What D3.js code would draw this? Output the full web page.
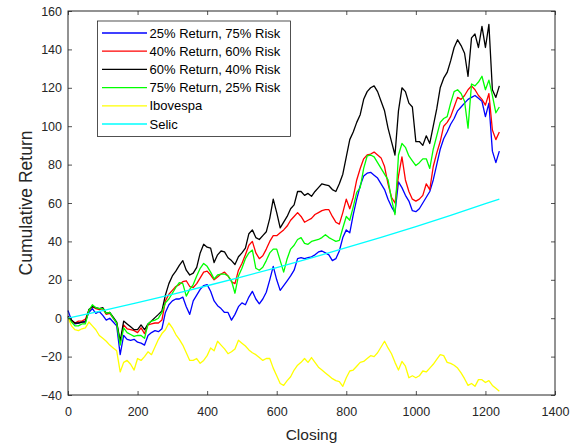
<!DOCTYPE html>
<html>
<head>
<meta charset="utf-8">
<script src="https://cdn.jsdelivr.net/npm/d3@7"></script>
<style>
  body { margin: 0; background: #fff; }
  text { font-family: "Liberation Sans", Arial, Helvetica, sans-serif; }
</style>
</head>
<body>
<script>
// trading day index (sampled every 10 closings)
var closing = [
  0, 10, 20, 30, 40, 50, 60, 70, 80, 90,
  100, 110, 120, 130, 140, 150, 160, 170, 180, 190,
  200, 210, 220, 230, 240, 250, 260, 270, 280, 290,
  300, 310, 320, 330, 340, 350, 360, 370, 380, 390,
  400, 410, 420, 430, 440, 450, 460, 470, 480, 490,
  500, 510, 520, 530, 540, 550, 560, 570, 580, 590,
  600, 610, 620, 630, 640, 650, 660, 670, 680, 690,
  700, 710, 720, 730, 740, 750, 760, 770, 780, 790,
  800, 810, 820, 830, 840, 850, 860, 870, 880, 890,
  900, 910, 920, 930, 940, 950, 960, 970, 980, 990,
  1000, 1010, 1020, 1030, 1040, 1050, 1060, 1070, 1080, 1090,
  1100, 1110, 1120, 1130, 1140, 1150, 1160, 1170, 1180, 1190,
  1200, 1210, 1220, 1230, 1240
];

var blue25 = [
  4, -1, -3, -2.5, -2, -1.5, 3, 5, 2.5, 3.5,
  1.5, -1, 0, -2, -4, -19, -9, -11, -11.5, -11,
  -12.5, -13, -14, -9, -7.5, -6.5, -7, -5.5, 3, 7,
  9, 10, 10, 11, 6, 2, 9, 12, 15, 17,
  17.5, 14, 9, 6.5, 5, 3, 3, -1, 2, 6,
  8, 7, 11, 14, 10, 7.5, 10, 13.5, 20, 27,
  20, 14.5, 17, 19.5, 22, 25, 31, 31.5, 31, 31.5,
  32, 33, 34.5, 35, 34, 33, 30, 31, 35, 42,
  46, 44.5, 54, 62, 69, 74, 75.5, 76, 74.5, 73,
  70, 67, 62, 58, 55, 71, 68, 64, 61, 56,
  55.5, 57, 60, 63, 66, 72, 80, 88, 93.5, 97,
  101, 104, 108, 110, 112, 114, 115, 116, 114.5, 113,
  105, 112, 87, 81, 87
];

var red40 = [
  0.5, -1.5, -2.5, -1.5, -1.5, -0.5, 4, 6, 5, 4.5,
  5, 2, 2.5, 0, -2.5, -13, -3.5, -5.5, -6, -6.5,
  -7.5, -5, -8, -3.5, -3, -2.5, -2.5, -1, 9, 12.5,
  14.5, 16.5, 17.5, 19, 19.5, 16.5, 16, 18, 21, 24,
  24.5, 22.5, 20, 21.5, 23, 24, 22, 19, 18, 25,
  28.5, 33, 38, 40, 34, 31, 32.5, 36, 40, 43,
  43, 44.5, 46, 48, 51, 53, 55, 53, 50, 51,
  52, 54, 55, 56, 56.5, 56.5, 53, 50, 49, 55,
  62, 57, 63, 72, 78, 83, 85, 85.5, 86.5, 85,
  83.5, 79, 70, 63, 60, 74, 84, 72, 66, 62,
  61, 62, 64, 70, 67, 79, 86, 92, 100, 102,
  105, 110, 115, 114, 116, 119, 121, 119, 116, 114,
  111, 117, 98, 93, 97
];

var black60 = [
  1, -1, -2.5, -2.5, -2, -2, 4.5, 6, 5.5, 5,
  5.5, 2.5, 3, 0.5, -2, -12, -1.5, -3, -4.5, -6,
  -6, -3.5, -6, -3, -1.5, 0.3, 2, 3.8, 12, 18,
  22, 24.5, 27.5, 30, 25, 22.5, 23.5, 26.5, 34, 38.5,
  37, 36.5, 29, 33, 35, 34.5, 31.5, 30, 28, 32,
  34, 36.5, 44, 46, 42, 41, 43, 45, 52, 62,
  55, 47, 50, 53, 57, 59, 66, 66, 64, 65,
  63.5, 66, 68, 70, 69.5, 69, 67, 66, 70, 75,
  84, 93, 97, 102, 106, 114, 118, 120, 121, 118,
  113, 108, 99, 92, 85, 108, 120, 118, 112, 110,
  92, 92, 90, 95, 91, 100, 109, 120, 125, 128,
  134, 141, 145, 142, 138, 126, 146, 148, 141, 152,
  141, 153, 119, 115, 121
];

var green75 = [
  0.5, -2, -4, -4, -3, -3, 4, 7, 5.5, 5,
  5, 2.5, 3, 0, -2.5, -14, -5, -7.5, -8.5, -9.5,
  -9, -9, -10.5, -3, -1.5, -1, 0, 3, 8, 10,
  13, 16, 18.5, 18, 11.5, 15, 17.5, 22, 26, 28.5,
  27, 24, 20.5, 22.5, 23, 23, 22, 19.5, 13, 22,
  26, 31, 34, 35.5, 26, 25, 26.5, 30, 34, 36,
  36, 30, 24, 31, 36, 38, 41, 42, 39, 38.5,
  40, 40.5, 41, 42, 43.5, 42, 41, 40, 40.5, 47,
  53, 51, 58, 65.5, 68, 78, 84.5, 85, 84, 81,
  78, 75, 72, 62, 54, 85, 91, 89, 84.5, 82,
  79.5, 81, 83, 83, 78, 88, 95, 102, 104, 105,
  112, 118, 119, 117, 113, 99, 122, 121, 123, 126,
  119, 124, 116, 107, 110
];

var ibovespa = [
  0.5, -4, -6, -6.5, -5.5, -5, -2, -4, -6, -9,
  -10.5, -12, -14, -15.5, -17, -28, -23, -22, -24, -27,
  -21, -22, -20, -17.5, -19, -15, -11, -8, -6, -2.5,
  -5, -8.5, -11, -14, -18, -22, -22, -21, -23.5, -22,
  -19.5, -15.5, -17, -12, -14, -16, -18.5, -17.5, -16, -11.5,
  -13, -14.5, -16.5, -18, -19, -20.5, -22, -21, -21, -26,
  -30, -34, -35, -32.5, -30.5, -27, -24.5, -23, -21, -23,
  -20.5, -23, -25.5, -27, -28.5, -30, -31.5, -32.5, -33, -35.5,
  -31, -27.5, -27, -25, -23, -22.5, -21, -19.5, -20, -18,
  -15, -12, -15.5, -18.5, -23, -27, -22.5, -25, -31, -30,
  -31, -30, -27.5, -28, -26, -24, -21.5, -19, -19.5, -23,
  -23.5, -24.5, -26, -28.5, -31.5, -35, -34, -35.5, -32, -32,
  -33.5, -32.5, -35, -36.5, -38
];

// Selic is smooth, read at coarser steps
var selicDays = [0, 100, 200, 300, 400, 500, 600, 700, 800, 900, 1000, 1100, 1200, 1240];
var selic = [0, 4, 8.1, 12.4, 16.9, 21.5, 26.4, 31.4, 36.7, 42.1, 47.7, 53.6, 59.7, 62];

var seriesNames = ["25% Return, 75% Risk", "40% Return, 60% Risk", "60% Return, 40% Risk",
                   "75% Return, 25% Risk", "Ibovespa", "Selic"];
var seriesColors = ["#0000ff", "#ff0000", "#000000", "#00ff00", "#ffff00", "#00ffff"];

var xTicks = [0, 200, 400, 600, 800, 1000, 1200, 1400];
var yTicks = [-40, -20, 0, 20, 40, 60, 80, 100, 120, 140, 160];

(function() {
    var w = 579, h = 447;
    var pLeft = 68, pRight = 555, pTop = 11, pBottom = 395;
    var axisColor = "#262626";

    var svg = d3.select("body").append("svg")
        .attr("width", w)
        .attr("height", h);

    var x = d3.scaleLinear().domain([0, 1400]).range([pLeft, pRight]);
    var y = d3.scaleLinear().domain([-40, 160]).range([pBottom, pTop]);

    // series (drawn in legend order)
    var lineData = [
        closing.map(function(d, i) { return [d, blue25[i]]; }),
        closing.map(function(d, i) { return [d, red40[i]]; }),
        closing.map(function(d, i) { return [d, black60[i]]; }),
        closing.map(function(d, i) { return [d, green75[i]]; }),
        closing.map(function(d, i) { return [d, ibovespa[i]]; }),
        selicDays.map(function(d, i) { return [d, selic[i]]; })
    ];

    var line = d3.line()
        .x(function(d) { return x(d[0]); })
        .y(function(d) { return y(d[1]); });

    svg.selectAll("path.series")
        .data(lineData)
        .enter()
        .append("path")
        .attr("class", "series")
        .attr("d", line)
        .attr("fill", "none")
        .attr("stroke", function(d, i) { return seriesColors[i]; })
        .attr("stroke-width", 1.3)
        .attr("stroke-linejoin", "round");

    // axes, ticks pointing inward on all four sides
    function styleAxis(g) {
        g.select(".domain").remove();
        g.selectAll(".tick line").attr("stroke", axisColor).attr("stroke-width", 0.8);
        g.selectAll(".tick text")
            .attr("fill", axisColor)
            .style("font-size", "12.5px");
    }

    svg.append("g")
        .attr("transform", "translate(0," + pBottom + ")")
        .call(d3.axisBottom(x).tickValues(xTicks).tickSize(-4).tickPadding(12).tickFormat(d3.format("d")))
        .call(styleAxis);

    svg.append("g")
        .attr("transform", "translate(0," + pTop + ")")
        .call(d3.axisTop(x).tickValues(xTicks).tickSize(-4).tickFormat(""))
        .call(styleAxis);

    svg.append("g")
        .attr("transform", "translate(" + pLeft + ",0)")
        .call(d3.axisLeft(y).tickValues(yTicks).tickSize(-4).tickPadding(6).tickFormat(d3.format("d")))
        .call(styleAxis);

    svg.append("g")
        .attr("transform", "translate(" + pRight + ",0)")
        .call(d3.axisRight(y).tickValues(yTicks).tickSize(-4).tickFormat(""))
        .call(styleAxis);

    svg.append("rect")
        .attr("x", pLeft)
        .attr("y", pTop)
        .attr("width", pRight - pLeft)
        .attr("height", pBottom - pTop)
        .attr("fill", "none")
        .attr("stroke", axisColor)
        .attr("stroke-width", 1);

    // axis labels
    svg.append("text")
        .attr("x", (pLeft + pRight) / 2)
        .attr("y", 439.5)
        .attr("text-anchor", "middle")
        .attr("fill", axisColor)
        .style("font-size", "15.5px")
        .text("Closing");

    svg.append("text")
        .attr("transform", "translate(32,203) rotate(-90)")
        .attr("text-anchor", "middle")
        .attr("fill", axisColor)
        .style("font-size", "17.5px")
        .text("Cumulative Return");

    // legend
    var legend = svg.append("g");

    legend.append("rect")
        .attr("x", 97.5)
        .attr("y", 21)
        .attr("width", 193)
        .attr("height", 115.5)
        .attr("fill", "#fff")
        .attr("stroke", axisColor)
        .attr("stroke-width", 0.8);

    var rows = legend.selectAll("g.row")
        .data(seriesNames)
        .enter()
        .append("g")
        .attr("class", "row")
        .attr("transform", function(d, i) { return "translate(0," + (33 + i * 18.2) + ")"; });

    rows.append("line")
        .attr("x1", 102)
        .attr("x2", 147)
        .attr("stroke", function(d, i) { return seriesColors[i]; })
        .attr("stroke-width", 1.3);

    rows.append("text")
        .attr("x", 149.5)
        .attr("dy", "0.35em")
        .attr("fill", "#000")
        .style("font-size", "13px")
        .text(function(d) { return d; });
})();
</script>
</body>
</html>
